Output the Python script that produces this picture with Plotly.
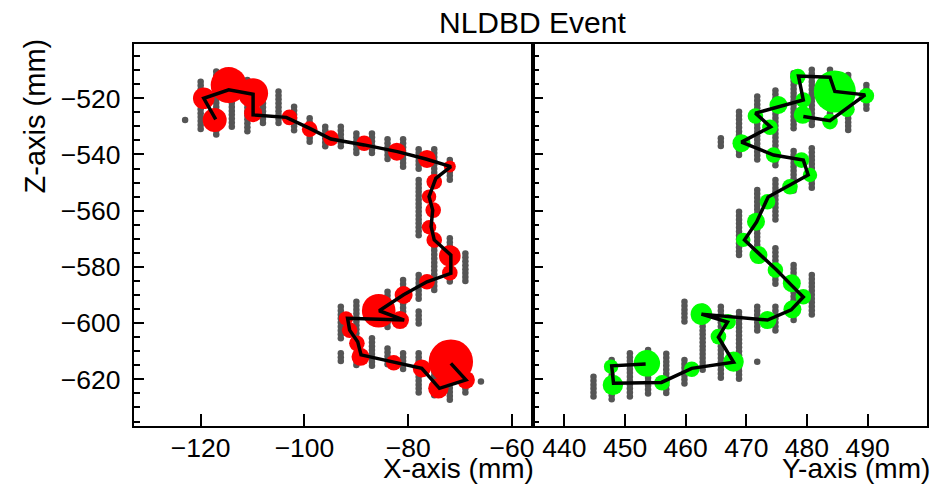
import numpy as np
import plotly.graph_objects as go

# ---------------- data (mm) ----------------
z_sample_pitch = 1.4  # readout sampling along Z

# Left view (X-Z): gray pixel-hit columns
left_col_x = [-123, -120, -117, -114, -111, -108, -105, -102, -99, -96, -93, -90, -87, -84, -81, -78, -75, -72,
              -78, -75, -72, -69, -78, -81, -84, -78, -90, -93, -87, -93, -90, -84, -81, -78, -75, -72, -69, -66]
left_col_ztop = [-527.7, -514.1, -510.5, -510.5, -513.5, -517.6, -517.6, -523.0, -527.1, -530.1, -530.1, -532.5, -532.5,
                 -534.6, -534.6, -538.1, -538.1, -542.0,
                 -549.1, -572.8, -569.8, -575.2, -582.9, -584.7, -588.8, -595.9, -592.4, -594.2, -605.4, -610.7,
                 -610.7, -609.0, -610.7, -610.7, -613.1, -611.9, -619.1, -620.8]
left_col_zbot = [-527.7, -531.3, -533.7, -531.3, -531.9, -530.1, -530.1, -531.9, -536.0, -537.8, -537.8, -539.6, -539.6,
                 -542.0, -545.5, -545.5, -549.1, -549.1,
                 -569.8, -588.2, -585.8, -585.8, -591.8, -601.0, -601.9, -601.3, -606.0, -606.6, -616.1, -614.0,
                 -616.0, -615.5, -616.7, -625.0, -626.7, -627.4, -625.6, -620.8]

# Left view: reconstructed charge clusters
left_hit_x = [-119.4, -117.3, -114.6, -109.9, -109.9, -102.9, -99.0, -94.9, -88.5, -82.2, -76.4, -72.0, -75.0, -76.0,
              -75.2, -76.0, -75.0, -72.0, -72.0, -76.4, -80.9, -85.7, -81.6, -92.0, -91.3, -89.9, -89.2, -82.8,
              -77.4, -71.8, -74.2, -68.9]
left_hit_z = [-520.0, -527.7, -515.3, -518.2, -525.3, -526.8, -531.0, -534.2, -536.0, -539.0, -541.6, -544.3, -549.7,
              -555.0, -559.8, -565.9, -570.4, -576.1, -582.1, -585.3, -590.0, -595.6, -598.9, -598.3, -602.5, -607.2,
              -612.0, -614.1, -616.1, -613.7, -623.2, -620.2]
left_hit_charge = [18, 20, 30, 25, 15, 13, 13, 13, 13, 15, 15, 10, 13, 12, 13, 12, 13, 18, 13, 13, 15, 28, 15, 12, 13,
                   13, 15, 13, 15, 37, 17, 15]

# Left view: fitted track
left_trk_x = [-117.1, -119.4, -114.6, -109.9, -109.9, -103.5, -99.0, -94.9, -88.5, -82.1, -76.6, -71.8, -74.7, -76.0,
              -75.3, -75.6, -75.0, -71.8, -71.8, -76.4, -80.9, -85.6, -80.8, -91.7, -91.3, -89.75, -89.1, -82.8,
              -77.4, -74.0, -68.9, -71.8]
left_trk_z = [-527.5, -520.0, -517.0, -518.6, -525.9, -526.8, -530.7, -534.5, -536.6, -539.0, -541.6, -544.3, -548.5,
              -555.0, -559.8, -565.7, -570.4, -575.8, -582.3, -585.3, -589.9, -595.6, -598.9, -598.3, -602.5, -606.6,
              -611.3, -614.0, -616.1, -623.2, -620.2, -614.3]

# Right view (Y-Z): gray pixel-hit columns
right_col_y = [444.8, 447.8, 450.8, 453.8, 456.8, 459.8, 459.8, 462.8, 465.8, 468.8, 471.8, 471.8, 474.8, 477.8,
               480.8, 474.8, 468.8, 471.8, 474.8, 477.8, 480.8, 465.8, 468.8, 471.8, 474.8, 477.8, 480.8, 483.8,
               486.8, 489.8]
right_col_ztop = [-619.1, -613.1, -610.7, -609.6, -610.9, -592.4, -613.1, -594.2, -594.2, -596.0, -594.2, -613.7,
                  -594.2, -579.3, -582.9, -573.4, -560.4, -552.6, -549.1, -538.8, -537.8, -534.2, -524.8, -519.4,
                  -517.2, -511.1, -509.9, -509.9, -511.7, -515.3]
right_col_zbot = [-627.4, -627.4, -627.4, -625.6, -624.9, -600.1, -622.6, -617.3, -620.2, -620.2, -603.6, -613.7,
                  -603.6, -600.1, -597.7, -587.0, -576.9, -572.2, -563.9, -553.7, -552.6, -537.8, -541.4, -543.1,
                  -544.0, -531.9, -530.1, -529.5, -531.9, -524.2]

# Right view: reconstructed charge clusters
right_hit_y = [478.5, 484.6, 489.8, 486.6, 483.8, 479.3, 479.4, 475.3, 471.5, 473.9, 469.2, 474.5, 479.1, 480.5, 477.2,
               473.5, 471.6, 469.5, 472.0, 474.8, 477.5, 479.4, 477.6, 473.5, 462.6, 467.0, 465.4, 467.9, 461.0,
               456.1, 448.0, 447.7, 453.6]
right_hit_z = [-512.3, -517.6, -519.1, -523.9, -528.3, -525.9, -520.6, -522.4, -526.3, -530.3, -536.0, -540.2, -542.0,
               -547.3, -551.5, -556.8, -563.9, -570.4, -575.8, -581.1, -585.8, -590.6, -595.1, -598.9, -596.8,
               -599.5, -604.8, -613.7, -616.4, -621.2, -622.0, -615.5, -614.3]
right_hit_charge = [13, 35, 13, 13, 13, 15, 13, 15, 13, 13, 15, 13, 13, 12, 13, 13, 15, 12, 15, 13, 15, 13, 15, 15,
                    18, 13, 13, 17, 13, 13, 17, 12, 22]

# Right view: fitted track
right_trk_y = [479.4, 483.8, 489.6, 484.6, 483.8, 478.6, 479.4, 474.5, 471.5, 474.0, 469.2, 474.5, 479.4, 480.2,
               473.6, 471.7, 469.7, 472.0, 475.0, 477.4, 479.4, 477.4, 473.5, 462.6, 466.9, 465.4, 467.9, 461.0,
               456.0, 448.1, 447.8, 453.4]
right_trk_z = [-526.5, -528.0, -518.8, -517.6, -512.5, -512.1, -520.6, -523.5, -525.3, -530.2, -535.6, -540.2, -542.0,
               -547.3, -555.1, -564.0, -570.4, -575.1, -581.1, -586.4, -590.7, -595.3, -598.9, -596.8, -599.6,
               -605.0, -613.9, -616.1, -621.1, -621.4, -615.2, -614.5]

x_ticks = [-120, -100, -80, -60]
y_ticks = [440, 450, 460, 470, 480, 490]
z_ticks = [-620, -600, -580, -560, -540, -520]

# ---------------- helpers ----------------
def expand_columns(cx, ztop, zbot, pitch):
    xs, zs = [], []
    for c, t, b in zip(cx, ztop, zbot):
        zz = np.arange(t, b - 1e-6, -pitch)
        if len(zz) == 0:
            zz = np.array([t])
        xs.extend([c] * len(zz))
        zs.extend(zz.tolist())
    return xs, zs

SIZE_SCALE = 1.2
GRAY = "#555555"
FONT = "Liberation Sans"

lx, lz = expand_columns(left_col_x, left_col_ztop, left_col_zbot, z_sample_pitch)
rx, rz = expand_columns(right_col_y, right_col_ztop, right_col_zbot, z_sample_pitch)

fig = go.Figure()
# left panel
fig.add_trace(go.Scatter(x=lx, y=lz, mode="markers", xaxis="x", yaxis="y",
                         marker=dict(size=6.5, color=GRAY), showlegend=False, hoverinfo="skip"))
fig.add_trace(go.Scatter(x=left_hit_x, y=left_hit_z, mode="markers", xaxis="x", yaxis="y",
                         marker=dict(size=np.array(left_hit_charge) * SIZE_SCALE, color="#ff0000",
                                     line=dict(width=0), opacity=1), showlegend=False))
fig.add_trace(go.Scatter(x=left_trk_x, y=left_trk_z, mode="lines", xaxis="x", yaxis="y",
                         line=dict(color="black", width=3.5), showlegend=False))
# right panel
fig.add_trace(go.Scatter(x=rx, y=rz, mode="markers", xaxis="x2", yaxis="y2",
                         marker=dict(size=6.5, color=GRAY), showlegend=False, hoverinfo="skip"))
fig.add_trace(go.Scatter(x=right_hit_y, y=right_hit_z, mode="markers", xaxis="x2", yaxis="y2",
                         marker=dict(size=np.array(right_hit_charge) * SIZE_SCALE, color="#00ff00",
                                     line=dict(width=0), opacity=1), showlegend=False))
fig.add_trace(go.Scatter(x=right_trk_y, y=right_trk_z, mode="lines", xaxis="x2", yaxis="y2",
                         line=dict(color="black", width=3.5), showlegend=False))

W, H = 936, 487
L0, L1, R1 = 134, 534, 929
T0, B0 = 44, 426

axis_common = dict(showgrid=False, zeroline=False, showline=True, linecolor="black", linewidth=2,
                   mirror=True, ticks="inside", tickcolor="black", tickwidth=1.5,
                   tickfont=dict(family=FONT, size=26.5, color="black"))

fig.update_layout(
    width=W, height=H, margin=dict(l=0, r=0, t=0, b=0),
    paper_bgcolor="white", plot_bgcolor="white",
    xaxis=dict(domain=[L0 / W, L1 / W], range=[-132.9, -56.0], anchor="y",
               tickvals=x_ticks, ticklen=12, ticklabelstandoff=-3, **axis_common),
    xaxis2=dict(domain=[L1 / W, R1 / W], range=[434.8, 499.8], anchor="y2",
                tickvals=y_ticks, ticklen=12, ticklabelstandoff=-3, **axis_common),
    yaxis=dict(domain=[1 - B0 / H, 1 - T0 / H], range=[-636.6, -500.7], anchor="x",
               tickvals=z_ticks, ticklen=10, ticklabelstandoff=6,
               minor=dict(dtick=5, tick0=0, ticks="inside", ticklen=6, tickcolor="black", tickwidth=1.5),
               **axis_common),
    yaxis2=dict(domain=[1 - B0 / H, 1 - T0 / H], range=[-636.6, -500.7], anchor="x2", matches="y",
                tickvals=z_ticks, ticklen=10, showticklabels=False,
                minor=dict(dtick=5, tick0=0, ticks="inside", ticklen=6, tickcolor="black", tickwidth=1.5),
                **axis_common),
    annotations=[
        dict(text="NLDBD Event", x=534 / W, y=1 - 22 / H, xref="paper", yref="paper",
             xanchor="center", yanchor="middle", showarrow=False,
             font=dict(family=FONT, size=30, color="black")),
        dict(text="X-axis (mm)", x=537 / W, y=1 - 468 / H, xref="paper", yref="paper",
             xanchor="right", yanchor="middle", showarrow=False,
             font=dict(family=FONT, size=28, color="black")),
        dict(text="Y-axis (mm)", x=934 / W, y=1 - 468 / H, xref="paper", yref="paper",
             xanchor="right", yanchor="middle", showarrow=False,
             font=dict(family=FONT, size=28, color="black")),
        dict(text="Z-axis (mm)", x=35 / W, y=1 - 36 / H, xref="paper", yref="paper",
             xanchor="center", yanchor="top", textangle=-90, showarrow=False,
             font=dict(family=FONT, size=29, color="black")),
    ],
)

fig.write_html("out.html", config={"displayModeBar": False},
               post_script="document.body.style.margin='0px';document.body.style.overflow='hidden';")
